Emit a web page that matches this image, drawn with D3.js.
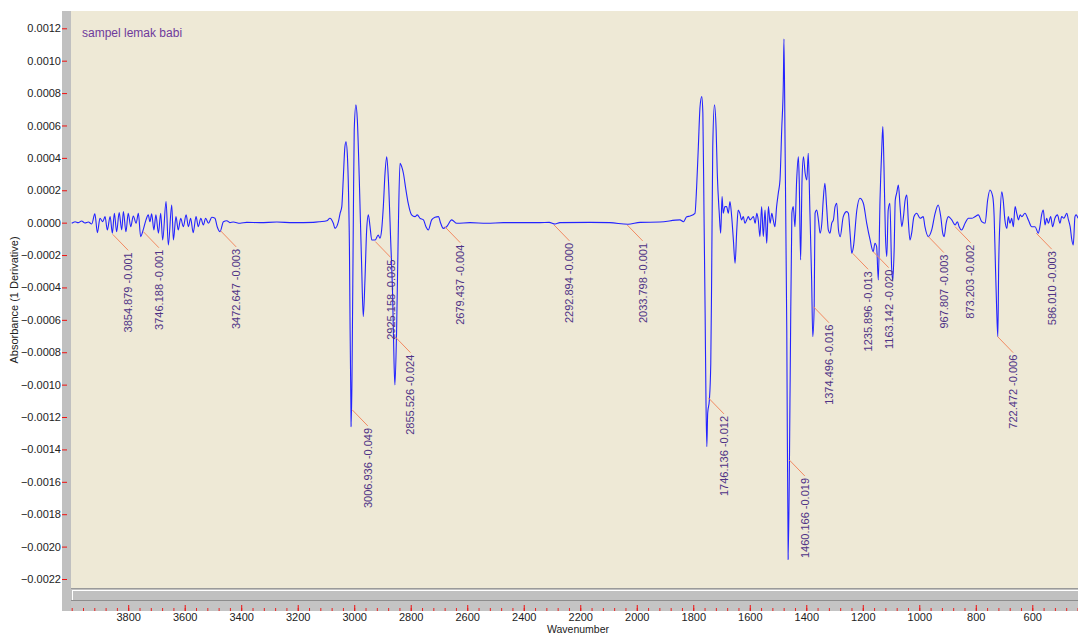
<!DOCTYPE html>
<html>
<head>
<meta charset="utf-8">
<script src="https://cdn.jsdelivr.net/npm/d3@7"></script>
<style>
  html, body { margin: 0; padding: 0; background: #ffffff; overflow: hidden; }
  svg { display: block; font-family: Arial, "Liberation Sans", sans-serif; }
</style>
</head>
<body>
<svg id="chart" width="1078" height="634"></svg>
<script>
// First-derivative FTIR spectrum: [wavenumber (cm-1), d(Absorbance)]
const spectrum = [
  [4000,-0.000004],[3988,0.000006],[3977,0],[3965,0.000010],[3953,-0.000002],[3941,0.000004],[3929,-0.000008],
  [3918,0.000054],[3909,-0.000062],[3900,0.000027],[3890,0.000006],[3882,0.000037],[3874,-0.000045],[3864,0.000037],
  [3856,-0.000065],[3849,0.000058],[3841,-0.000056],[3832,0.000062],[3823,-0.000045],[3817,0.000068],[3808,-0.000056],
  [3800,0.000058],[3791,-0.000025],[3782,0.000041],[3772,-0.000004],[3764,0.000058],[3756,-0.000086],[3747,-0.000045],
  [3737,0.000017],[3729,0.000048],[3723,0.000006],[3717,0.000054],[3709,-0.000045],[3702,0.000048],[3693,-0.000065],
  [3685,0.000058],[3678,-0.000107],[3666,0.000130],[3658,-0.000138],[3646,0.000109],[3640,-0.000107],[3631,0.000037],
  [3623,-0.000045],[3614,0.000027],[3605,-0.000025],[3595,0.000048],[3587,-0.000025],[3579,0.000027],[3570,-0.000062],
  [3560,0.000037],[3552,-0.000025],[3543,0.000027],[3534,-0.000014],[3526,0.000027],[3516,-0.000004],[3504,0.000033],
  [3493,0.000027],[3485,-0.000025],[3475,-0.000056],[3463,0.000006],[3451,0.000012],[3440,0],[3428,0.000004],
  [3404,-0.000004],[3381,0.000002],[3333,0],[3274,0.000004],[3216,0],[3145,0.000002],[3121,0.000006],[3097,0.000012],
  [3086,0.000027],[3074,-0.000004],[3068,-0.000035],[3056,0.000006],[3050,0.000058],[3044,0.000099],[3039,0.000264],
  [3033,0.000469],[3029,0.000500],[3024,0.000407],[3017,-0.000148],[3011,-0.001259],[3008,-0.000971],[3003,0.000058],
  [3000,0.000572],[2994,0.000727],[2989,0.000634],[2982,0.000264],[2974,-0.000251],[2968,-0.000580],[2962,-0.000354],
  [2956,-0.000045],[2950,0.000048],[2944,-0.000025],[2938,-0.000107],[2926,-0.000107],[2915,-0.000076],[2909,-0.000096],
  [2903,-0.000045],[2897,0.000099],[2891,0.000305],[2885,0.000407],[2879,0.000264],[2871,-0.000107],[2864,-0.000457],
  [2859,-0.000868],[2856,-0.001002],[2850,-0.000662],[2844,-0.000045],[2838,0.000367],[2832,0.000346],[2826,0.000305],
  [2817,0.000202],[2809,0.000120],[2797,0.000048],[2785,0.000037],[2777,0.000048],[2767,0.000027],[2755,0.000017],
  [2746,-0.000025],[2738,-0.000045],[2726,0.000017],[2714,0.000033],[2702,0.000037],[2694,-0.000004],[2685,-0.000035],
  [2673,-0.000025],[2655,0.000017],[2637,-0.000004],[2590,0],[2531,-0.000004],[2472,0],[2413,0],[2342,0],
  [2310,0.000002],[2289,-0.000008],[2272,0],[2165,0.000002],[2095,0],[2031,-0.000010],[1988,0.000002],[1918,0.000004],
  [1847,0.000017],[1835,0.000006],[1823,0.000037],[1811,0.000041],[1794,0.000058],[1788,0.000222],[1782,0.000469],
  [1776,0.000716],[1770,0.000778],[1766,0.000675],[1762,0.000058],[1758,-0.000559],[1755,-0.001095],[1752,-0.001383],
  [1749,-0.001177],[1743,-0.001095],[1738,-0.000868],[1735,-0.000354],[1731,0.000469],[1725,0.000727],[1719,0.000572],
  [1715,0.000305],[1708,0.000058],[1703,-0.000065],[1698,0.000161],[1694,0.000058],[1688,0.000099],[1682,0.000099],
  [1676,0.000058],[1670,0.000130],[1664,0.000037],[1658,-0.000107],[1652,-0.000251],[1646,-0.000045],[1641,0.000078],
  [1635,0.000058],[1629,0.000017],[1623,0.000037],[1617,-0.000004],[1611,0.000017],[1605,0.000037],[1599,0.000017],
  [1587,0.000037],[1581,-0.000004],[1575,0.000058],[1570,0.000017],[1564,-0.000086],[1558,0.000099],[1552,-0.000086],
  [1546,0.000078],[1540,-0.000127],[1534,0.000099],[1528,-0.000004],[1522,0.000058],[1517,0.000017],[1511,-0.000025],
  [1505,0.000099],[1499,0.000182],[1493,0.000264],[1487,0.000572],[1481,0.000881],[1479,0.001134],[1475,0.000469],
  [1469,-0.000662],[1464,-0.002079],[1457,-0.000971],[1451,0.000058],[1446,0.000099],[1440,-0.000025],[1434,0.000264],
  [1428,0.000407],[1425,0.000264],[1420,-0.000230],[1415,0.000264],[1410,0.000407],[1404,0.000305],[1398,0.000264],
  [1393,0.000428],[1387,0.000058],[1381,-0.000354],[1377,-0.000704],[1372,-0.000519],[1369,0.000058],[1363,0.000078],
  [1357,0.000017],[1351,-0.000065],[1345,-0.000004],[1340,0.000140],[1334,0.000243],[1328,0.000099],[1322,-0.000045],
  [1316,-0.000065],[1310,-0.000004],[1304,0.000017],[1298,0.000099],[1292,0.000120],[1286,-0.000045],[1280,-0.000086],
  [1269,0.000037],[1257,0.000068],[1251,0.000058],[1245,-0.000065],[1239,-0.000189],[1233,-0.000148],[1221,0.000078],
  [1210,0.000151],[1198,0.000120],[1186,-0.000004],[1174,-0.000107],[1163,-0.000179],[1157,-0.000127],[1151,-0.000148],
  [1145,-0.000354],[1139,0.000140],[1133,0.000449],[1129,0.000593],[1125,0.000346],[1120,-0.000065],[1115,-0.000210],
  [1110,0.000078],[1104,0.000120],[1098,-0.000272],[1094,-0.000354],[1089,-0.000169],[1085,0.000140],[1080,0.000182],
  [1074,0.000233],[1068,0.000099],[1062,-0.000025],[1056,0.000037],[1050,0.000140],[1044,0.000171],[1039,0.000017],
  [1033,-0.000107],[1027,-0.000065],[1019,0.000037],[1009,0.000058],[997,0.000027],[986,0.000037],[980,-0.000025],
  [968,-0.000086],[956,-0.000045],[944,0.000058],[933,0.000109],[924,0.000037],[917,-0.000065],[912,-0.000086],
  [905,-0.000004],[897,0.000037],[885,0.000017],[873,-0.000014],[865,0.000006],[859,-0.000025],[850,-0.000045],
  [838,-0.000004],[826,0.000027],[814,0.000027],[803,0.000037],[791,0.000048],[779,0.000006],[767,-0.000004],
  [758,0.000140],[750,0.000202],[740,0.000161],[735,0.000037],[731,-0.000230],[726,-0.000539],[722,-0.000704],
  [719,-0.000272],[714,0.000037],[708,0.000191],[703,0.000140],[697,0.000017],[690,-0.000035],[685,0.000037],
  [679,-0.000004],[673,0.000027],[667,-0.000025],[661,0.000099],[655,0.000058],[649,0.000017],[643,0.000048],
  [637,0.000037],[626,0.000058],[614,0.000017],[602,-0.000025],[590,-0.000025],[579,-0.000065],[573,-0.000025],
  [567,0.000048],[561,0.000078],[555,-0.000014],[549,0.000027],[543,-0.000004],[535,0.000037],[528,-0.000025],
  [520,0.000027],[511,0.000048],[502,-0.000004],[496,0.000037],[488,0.000027],[478,0.000058],[472,0.000017],
  [466,-0.000025],[460,-0.000107],[455,-0.000138],[449,0.000037],[445,0.000048],[438,0.000027]
];

// Peak-pick markers: position, derivative at the marker, and the reading printed beside it
const peakWavenumber = [3854.879, 3746.188, 3472.647, 3006.936, 2925.158, 2855.526, 2679.437, 2292.894, 2033.798,
                        1746.136, 1460.166, 1374.496, 1235.896, 1163.142, 967.807, 873.203, 722.472, 586.010];
const peakDerivative = [-0.000072, -0.000056, -0.000051, -0.001156, -0.000117, -0.000704, -0.000025, -0.000014, -0.000014,
                        -0.001082, -0.001465, -0.000519, -0.000189, -0.000179, -0.000086, -0.000025, -0.000704, -0.000065];
const peakReading = ["-0.001", "-0.001", "-0.003", "-0.049", "-0.035", "-0.024", "-0.004", "-0.000", "-0.001",
                     "-0.012", "-0.019", "-0.016", "-0.013", "-0.020", "-0.003", "-0.002", "-0.006", "-0.003"];

const xMajorTicks = [3800, 3600, 3400, 3200, 3000, 2800, 2600, 2400, 2200, 2000, 1800, 1600, 1400, 1200, 1000, 800, 600];
const xMinorTicks = d3.range(4000, 399, -40);
const yTicks = [0.0012, 0.0010, 0.0008, 0.0006, 0.0004, 0.0002, 0, -0.0002, -0.0004, -0.0006, -0.0008, -0.0010,
                -0.0012, -0.0014, -0.0016, -0.0018, -0.0020, -0.0022];

const sampleName = "sampel lemak babi";
const xTitle = "Wavenumber";
const yTitle = "Absorbance (1 Derivative)";

// ---- layout ----
const W = 1078, H = 634;
const frame = { left: 62, plotLeft: 71, top: 11, plotBottom: 588, bottom: 611 };

const svg = d3.select("#chart");

const x = d3.scaleLinear().domain([4000, 400]).range([71.7, 1088.8]);
const y = d3.scaleLinear().domain([-0.0022, 0.0012]).range([579, 28.3]);

// window chrome: grey frame, scroll bar and plot canvas
svg.append("rect").attr("x", frame.left).attr("y", frame.top)
  .attr("width", W - frame.left).attr("height", frame.bottom - frame.top).attr("fill", "#c0c0c0");
svg.append("rect").attr("x", frame.plotLeft).attr("y", frame.top)
  .attr("width", W - frame.plotLeft).attr("height", frame.plotBottom - frame.top).attr("fill", "#eee9d6");

// scroll bar under the canvas
const sb = svg.append("g");
sb.append("rect").attr("x", frame.plotLeft).attr("y", 588).attr("width", W - frame.plotLeft).attr("height", 1).attr("fill", "#9a9a9a");
sb.append("rect").attr("x", frame.plotLeft + 1).attr("y", 590).attr("width", W - frame.plotLeft).attr("height", 1).attr("fill", "#ffffff");
sb.append("rect").attr("x", frame.plotLeft + 1).attr("y", 590).attr("width", 1).attr("height", 10).attr("fill", "#ffffff");
sb.append("rect").attr("x", frame.plotLeft).attr("y", 600).attr("width", W - frame.plotLeft).attr("height", 1).attr("fill", "#8c8c8c");
sb.append("rect").attr("x", frame.plotLeft).attr("y", 601).attr("width", W - frame.plotLeft).attr("height", 10).attr("fill", "#c4c4c4");

svg.append("defs").append("clipPath").attr("id", "plotClip")
  .append("rect").attr("x", frame.plotLeft).attr("y", frame.top)
  .attr("width", W - frame.plotLeft).attr("height", frame.plotBottom - frame.top);

// sample name
svg.append("text").attr("x", 82).attr("y", 37)
  .attr("font-size", 12).attr("fill", "#6e3a9c").text(sampleName);

// spectrum trace (smooth between sampled points, extremes kept)
const line = d3.line().x(d => x(d[0])).y(d => y(d[1])).curve(d3.curveMonotoneX);
svg.append("path").datum(spectrum.slice().reverse())
  .attr("clip-path", "url(#plotClip)")
  .attr("d", line).attr("fill", "none")
  .attr("stroke", "#2323ff").attr("stroke-width", 1.1).attr("stroke-linejoin", "round");

// peak markers: leader line + rotated reading
const leadDx = 15.5, leadDy = 16;
const peaks = peakWavenumber.map((wn, i) => ({ wn, d: peakDerivative[i], label: wn.toFixed(3) + " " + peakReading[i] }));
const pk = svg.append("g").attr("clip-path", "url(#plotClip)");
pk.selectAll("line").data(peaks).join("line")
  .attr("x1", d => x(d.wn)).attr("y1", d => y(d.d))
  .attr("x2", d => x(d.wn) + leadDx).attr("y2", d => y(d.d) + leadDy)
  .attr("stroke", "#f28a62").attr("stroke-width", 1);
pk.selectAll("text").data(peaks).join("text")
  .attr("transform", d => `translate(${x(d.wn) + leadDx},${y(d.d) + leadDy + 2}) rotate(-90)`)
  .attr("text-anchor", "end").attr("dy", "0.35em")
  .attr("font-size", 11).attr("fill", "#4f3386").text(d => d.label);

// y axis on the grey strip
const yAxis = svg.append("g").attr("transform", "translate(67,0)")
  .call(d3.axisLeft(y).tickValues(yTicks).tickFormat(d3.format(".4f")).tickSize(5).tickPadding(1));
yAxis.select(".domain").remove();
yAxis.selectAll(".tick line").attr("stroke", "#ee1111");
yAxis.selectAll(".tick text").attr("fill", "#222").attr("font-size", 11)
  .attr("font-family", "Arial, 'Liberation Sans', sans-serif");

// x axis: minor and major ticks in the ruler under the scroll bar
const xMinor = svg.append("g").attr("transform", "translate(0,608)")
  .call(d3.axisBottom(x).tickValues(xMinorTicks).tickFormat("").tickSize(3));
xMinor.select(".domain").remove();
xMinor.selectAll(".tick line").attr("stroke", "#ee2222");

const xMajor = svg.append("g").attr("transform", "translate(0,605)")
  .call(d3.axisBottom(x).tickValues(xMajorTicks).tickFormat(d3.format("d")).tickSize(6).tickPadding(2));
xMajor.select(".domain").remove();
xMajor.selectAll(".tick line").attr("stroke", "#ee1111");
xMajor.selectAll(".tick text").attr("fill", "#222").attr("font-size", 11)
  .attr("font-family", "Arial, 'Liberation Sans', sans-serif");

// axis titles
svg.append("text").attr("x", 578).attr("y", 633.3).attr("text-anchor", "middle")
  .attr("font-size", 10.5).attr("fill", "#222").text(xTitle);
svg.append("text").attr("transform", "translate(14,300) rotate(-90)").attr("text-anchor", "middle")
  .attr("dy", "0.35em").attr("font-size", 11).attr("fill", "#222").text(yTitle);
</script>
</body>
</html>
